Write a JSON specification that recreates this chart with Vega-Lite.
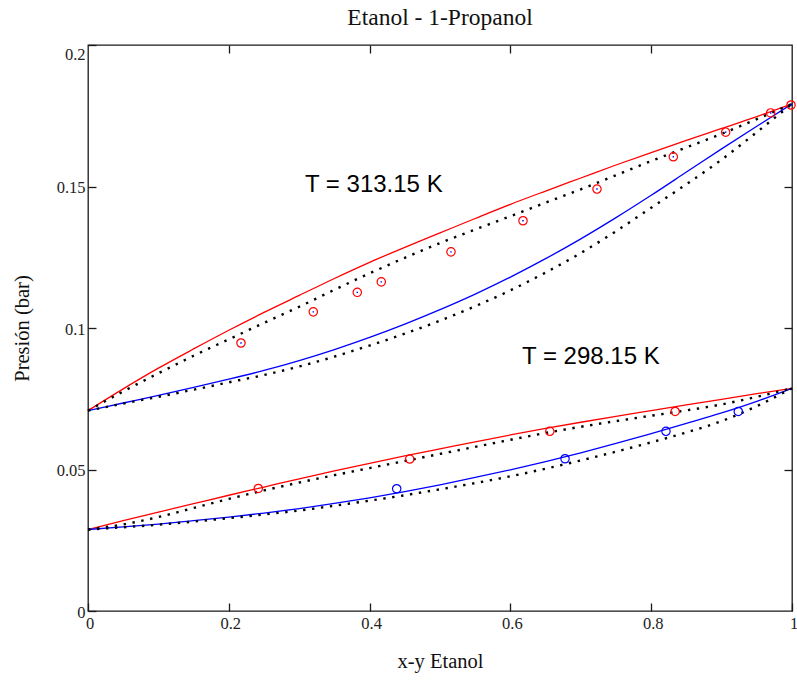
{
  "$schema": "https://vega.github.io/schema/vega-lite/v6.json",
  "width": 704,
  "height": 566,
  "autosize": {"type": "none"},
  "padding": {"left": 88, "top": 45, "right": 5, "bottom": 75},
  "background": "white",
  "title": {"text": "Etanol - 1-Propanol", "font": "Liberation Serif", "fontSize": 23.5, "fontWeight": "normal", "color": "#111111", "anchor": "middle", "offset": 15},
  "config": {
    "view": {"stroke": "#1a1a1a", "strokeWidth": 1.3},
    "axis": {"domain": false, "grid": false, "ticks": true, "tickSize": -8, "tickColor": "#1a1a1a", "tickWidth": 1.3, "labelFont": "Liberation Serif", "labelFontSize": 16.5, "labelColor": "#222222", "titleFont": "Liberation Serif", "titleFontSize": 20.5, "titleFontWeight": "normal", "titleColor": "#111111", "labelFlush": false}
  },
  "datasets": {
    "curvas": [
      {"curva":"313b","fase":"burbuja","x":0,"P":0.0708},{"curva":"313b","fase":"burbuja","x":0.05,"P":0.0785},{"curva":"313b","fase":"burbuja","x":0.1,"P":0.0858},{"curva":"313b","fase":"burbuja","x":0.15,"P":0.0926},{"curva":"313b","fase":"burbuja","x":0.2,"P":0.0992},{"curva":"313b","fase":"burbuja","x":0.25,"P":0.1055},{"curva":"313b","fase":"burbuja","x":0.3,"P":0.1115},{"curva":"313b","fase":"burbuja","x":0.35,"P":0.1175},{"curva":"313b","fase":"burbuja","x":0.4,"P":0.1232},{"curva":"313b","fase":"burbuja","x":0.45,"P":0.1285},{"curva":"313b","fase":"burbuja","x":0.5,"P":0.1336},{"curva":"313b","fase":"burbuja","x":0.55,"P":0.1387},{"curva":"313b","fase":"burbuja","x":0.6,"P":0.1437},{"curva":"313b","fase":"burbuja","x":0.65,"P":0.1484},{"curva":"313b","fase":"burbuja","x":0.7,"P":0.153},{"curva":"313b","fase":"burbuja","x":0.75,"P":0.1576},{"curva":"313b","fase":"burbuja","x":0.8,"P":0.162},{"curva":"313b","fase":"burbuja","x":0.85,"P":0.1663},{"curva":"313b","fase":"burbuja","x":0.9,"P":0.1705},{"curva":"313b","fase":"burbuja","x":0.95,"P":0.1747},{"curva":"313b","fase":"burbuja","x":1,"P":0.1792},
      {"curva":"313r","fase":"rocio","x":0,"P":0.0708},{"curva":"313r","fase":"rocio","x":0.05,"P":0.0735},{"curva":"313r","fase":"rocio","x":0.1,"P":0.0762},{"curva":"313r","fase":"rocio","x":0.15,"P":0.079},{"curva":"313r","fase":"rocio","x":0.2,"P":0.0819},{"curva":"313r","fase":"rocio","x":0.25,"P":0.085},{"curva":"313r","fase":"rocio","x":0.3,"P":0.0885},{"curva":"313r","fase":"rocio","x":0.35,"P":0.0924},{"curva":"313r","fase":"rocio","x":0.4,"P":0.0967},{"curva":"313r","fase":"rocio","x":0.45,"P":0.1014},{"curva":"313r","fase":"rocio","x":0.5,"P":0.1065},{"curva":"313r","fase":"rocio","x":0.55,"P":0.112},{"curva":"313r","fase":"rocio","x":0.6,"P":0.118},{"curva":"313r","fase":"rocio","x":0.65,"P":0.1245},{"curva":"313r","fase":"rocio","x":0.7,"P":0.1315},{"curva":"313r","fase":"rocio","x":0.75,"P":0.139},{"curva":"313r","fase":"rocio","x":0.8,"P":0.1469},{"curva":"313r","fase":"rocio","x":0.85,"P":0.1551},{"curva":"313r","fase":"rocio","x":0.9,"P":0.1633},{"curva":"313r","fase":"rocio","x":0.95,"P":0.1713},{"curva":"313r","fase":"rocio","x":1,"P":0.1792},
      {"curva":"298b","fase":"burbuja","x":0,"P":0.0288},{"curva":"298b","fase":"burbuja","x":0.05,"P":0.0319},{"curva":"298b","fase":"burbuja","x":0.1,"P":0.0349},{"curva":"298b","fase":"burbuja","x":0.15,"P":0.0379},{"curva":"298b","fase":"burbuja","x":0.2,"P":0.0409},{"curva":"298b","fase":"burbuja","x":0.25,"P":0.0438},{"curva":"298b","fase":"burbuja","x":0.3,"P":0.0467},{"curva":"298b","fase":"burbuja","x":0.35,"P":0.0495},{"curva":"298b","fase":"burbuja","x":0.4,"P":0.0522},{"curva":"298b","fase":"burbuja","x":0.45,"P":0.0548},{"curva":"298b","fase":"burbuja","x":0.5,"P":0.0573},{"curva":"298b","fase":"burbuja","x":0.55,"P":0.0598},{"curva":"298b","fase":"burbuja","x":0.6,"P":0.0622},{"curva":"298b","fase":"burbuja","x":0.65,"P":0.0645},{"curva":"298b","fase":"burbuja","x":0.7,"P":0.0667},{"curva":"298b","fase":"burbuja","x":0.75,"P":0.0688},{"curva":"298b","fase":"burbuja","x":0.8,"P":0.0708},{"curva":"298b","fase":"burbuja","x":0.85,"P":0.0728},{"curva":"298b","fase":"burbuja","x":0.9,"P":0.0748},{"curva":"298b","fase":"burbuja","x":0.95,"P":0.0768},{"curva":"298b","fase":"burbuja","x":1,"P":0.0787},
      {"curva":"298r","fase":"rocio","x":0,"P":0.0288},{"curva":"298r","fase":"rocio","x":0.05,"P":0.0297},{"curva":"298r","fase":"rocio","x":0.1,"P":0.0307},{"curva":"298r","fase":"rocio","x":0.15,"P":0.0319},{"curva":"298r","fase":"rocio","x":0.2,"P":0.0332},{"curva":"298r","fase":"rocio","x":0.25,"P":0.0346},{"curva":"298r","fase":"rocio","x":0.3,"P":0.0362},{"curva":"298r","fase":"rocio","x":0.35,"P":0.038},{"curva":"298r","fase":"rocio","x":0.4,"P":0.04},{"curva":"298r","fase":"rocio","x":0.45,"P":0.0422},{"curva":"298r","fase":"rocio","x":0.5,"P":0.0446},{"curva":"298r","fase":"rocio","x":0.55,"P":0.0472},{"curva":"298r","fase":"rocio","x":0.6,"P":0.0499},{"curva":"298r","fase":"rocio","x":0.65,"P":0.0528},{"curva":"298r","fase":"rocio","x":0.7,"P":0.0559},{"curva":"298r","fase":"rocio","x":0.75,"P":0.0592},{"curva":"298r","fase":"rocio","x":0.8,"P":0.0627},{"curva":"298r","fase":"rocio","x":0.85,"P":0.0663},{"curva":"298r","fase":"rocio","x":0.9,"P":0.07},{"curva":"298r","fase":"rocio","x":0.95,"P":0.0741},{"curva":"298r","fase":"rocio","x":1,"P":0.0787}
    ],
    "modelo": [
      {"curva":"313b","x":0,"P":0.0708},{"curva":"313b","x":0.05,"P":0.0776},{"curva":"313b","x":0.1,"P":0.084},{"curva":"313b","x":0.15,"P":0.0902},{"curva":"313b","x":0.2,"P":0.096},{"curva":"313b","x":0.25,"P":0.1018},{"curva":"313b","x":0.3,"P":0.1075},{"curva":"313b","x":0.35,"P":0.1135},{"curva":"313b","x":0.4,"P":0.1193},{"curva":"313b","x":0.45,"P":0.1248},{"curva":"313b","x":0.5,"P":0.13},{"curva":"313b","x":0.55,"P":0.1348},{"curva":"313b","x":0.6,"P":0.1395},{"curva":"313b","x":0.65,"P":0.1443},{"curva":"313b","x":0.7,"P":0.149},{"curva":"313b","x":0.75,"P":0.154},{"curva":"313b","x":0.8,"P":0.159},{"curva":"313b","x":0.85,"P":0.1638},{"curva":"313b","x":0.9,"P":0.1686},{"curva":"313b","x":0.95,"P":0.1738},{"curva":"313b","x":1,"P":0.1792},
      {"curva":"313r","x":0,"P":0.0708},{"curva":"313r","x":0.05,"P":0.0733},{"curva":"313r","x":0.1,"P":0.0757},{"curva":"313r","x":0.15,"P":0.0782},{"curva":"313r","x":0.2,"P":0.0808},{"curva":"313r","x":0.25,"P":0.0834},{"curva":"313r","x":0.3,"P":0.0864},{"curva":"313r","x":0.35,"P":0.0899},{"curva":"313r","x":0.4,"P":0.0938},{"curva":"313r","x":0.45,"P":0.098},{"curva":"313r","x":0.5,"P":0.1026},{"curva":"313r","x":0.55,"P":0.1077},{"curva":"313r","x":0.6,"P":0.1133},{"curva":"313r","x":0.65,"P":0.1196},{"curva":"313r","x":0.7,"P":0.1265},{"curva":"313r","x":0.75,"P":0.1342},{"curva":"313r","x":0.8,"P":0.1425},{"curva":"313r","x":0.85,"P":0.1508},{"curva":"313r","x":0.9,"P":0.1595},{"curva":"313r","x":0.95,"P":0.1692},{"curva":"313r","x":1,"P":0.1792},
      {"curva":"298b","x":0,"P":0.0288},{"curva":"298b","x":0.05,"P":0.0306},{"curva":"298b","x":0.1,"P":0.0332},{"curva":"298b","x":0.15,"P":0.0364},{"curva":"298b","x":0.2,"P":0.0396},{"curva":"298b","x":0.25,"P":0.0426},{"curva":"298b","x":0.3,"P":0.0454},{"curva":"298b","x":0.35,"P":0.048},{"curva":"298b","x":0.4,"P":0.0505},{"curva":"298b","x":0.45,"P":0.053},{"curva":"298b","x":0.5,"P":0.0555},{"curva":"298b","x":0.55,"P":0.058},{"curva":"298b","x":0.6,"P":0.0605},{"curva":"298b","x":0.65,"P":0.0629},{"curva":"298b","x":0.7,"P":0.0651},{"curva":"298b","x":0.75,"P":0.0671},{"curva":"298b","x":0.8,"P":0.069},{"curva":"298b","x":0.85,"P":0.0709},{"curva":"298b","x":0.9,"P":0.073},{"curva":"298b","x":0.95,"P":0.0757},{"curva":"298b","x":1,"P":0.0787},
      {"curva":"298r","x":0,"P":0.0288},{"curva":"298r","x":0.05,"P":0.0296},{"curva":"298r","x":0.1,"P":0.0305},{"curva":"298r","x":0.15,"P":0.0316},{"curva":"298r","x":0.2,"P":0.0328},{"curva":"298r","x":0.25,"P":0.0341},{"curva":"298r","x":0.3,"P":0.0355},{"curva":"298r","x":0.35,"P":0.0372},{"curva":"298r","x":0.4,"P":0.039},{"curva":"298r","x":0.45,"P":0.0409},{"curva":"298r","x":0.5,"P":0.043},{"curva":"298r","x":0.55,"P":0.0452},{"curva":"298r","x":0.6,"P":0.0476},{"curva":"298r","x":0.65,"P":0.0503},{"curva":"298r","x":0.7,"P":0.0532},{"curva":"298r","x":0.75,"P":0.0563},{"curva":"298r","x":0.8,"P":0.0596},{"curva":"298r","x":0.85,"P":0.0631},{"curva":"298r","x":0.9,"P":0.0671},{"curva":"298r","x":0.95,"P":0.0724},{"curva":"298r","x":1,"P":0.0787}
    ],
    "experimental": [
      {"serie":"313","fase":"burbuja","x":0.2173,"P":0.0947},{"serie":"313","fase":"burbuja","x":0.32,"P":0.1057},{"serie":"313","fase":"burbuja","x":0.3825,"P":0.1126},{"serie":"313","fase":"burbuja","x":0.4166,"P":0.1163},{"serie":"313","fase":"burbuja","x":0.5156,"P":0.1269},{"serie":"313","fase":"burbuja","x":0.6179,"P":0.1379},{"serie":"313","fase":"burbuja","x":0.723,"P":0.1491},{"serie":"313","fase":"burbuja","x":0.8314,"P":0.1605},{"serie":"313","fase":"burbuja","x":0.9058,"P":0.1692},{"serie":"313","fase":"burbuja","x":0.9697,"P":0.176},{"serie":"313","fase":"burbuja","x":0.9986,"P":0.1788},
      {"serie":"298","fase":"burbuja","x":0.2419,"P":0.0433},{"serie":"298","fase":"burbuja","x":0.457,"P":0.0537},{"serie":"298","fase":"burbuja","x":0.656,"P":0.0635},{"serie":"298","fase":"burbuja","x":0.834,"P":0.0705},
      {"serie":"298","fase":"rocio","x":0.4385,"P":0.0432},{"serie":"298","fase":"rocio","x":0.6776,"P":0.0538},{"serie":"298","fase":"rocio","x":0.821,"P":0.0635},{"serie":"298","fase":"rocio","x":0.9237,"P":0.0705}
    ],
    "etiquetas": [
      {"texto":"T = 313.15 K","x":0.3082,"P":0.1482},
      {"texto":"T = 298.15 K","x":0.6165,"P":0.0872}
    ]
  },
  "layer": [
    {
      "data": {"name": "curvas"},
      "mark": {"type": "line", "interpolate": "monotone", "strokeWidth": 1.3},
      "encoding": {
        "x": {"field": "x", "type": "quantitative", "scale": {"domain": [0, 1], "nice": false, "zero": false},
              "axis": {"orient": "bottom", "values": [0, 0.2, 0.4, 0.6, 0.8, 1], "format": "~g", "labelPadding": 12.5, "labelOffset": 1.5, "title": "x-y Etanol", "titlePadding": 19}},
        "y": {"field": "P", "type": "quantitative", "scale": {"domain": [0, 0.2], "nice": false, "zero": false},
              "axis": {"orient": "left", "values": [0, 0.05, 0.1, 0.15, 0.2], "format": "~g", "labelPadding": 11, "labelOffset": 1,
                       "labelBaseline": {"condition": {"test": "datum.value >= 0.2", "value": "top"}, "value": "middle"},
                       "title": "Presión (bar)", "titlePadding": 24}},
        "color": {"field": "fase", "type": "nominal", "scale": {"domain": ["burbuja", "rocio"], "range": ["#ff0000", "#0000ff"]}, "legend": null},
        "detail": {"field": "curva"}
      }
    },
    {
      "data": {"name": "modelo"},
      "mark": {"type": "line", "interpolate": "monotone", "color": "#000000", "strokeWidth": 2.4, "strokeDash": [2.4, 6.6], "strokeCap": "butt"},
      "encoding": {
        "x": {"field": "x", "type": "quantitative", "axis": {"orient": "top", "values": [0.2, 0.4, 0.6, 0.8], "labels": false, "title": null}},
        "y": {"field": "P", "type": "quantitative", "axis": {"orient": "right", "values": [0.05, 0.1, 0.15], "labels": false, "title": null}},
        "detail": {"field": "curva"}
      }
    },
    {
      "data": {"name": "experimental"},
      "mark": {"type": "point", "shape": "circle", "filled": false, "size": 70, "strokeWidth": 1.2, "opacity": 1},
      "encoding": {
        "x": {"field": "x", "type": "quantitative", "axis": null},
        "y": {"field": "P", "type": "quantitative", "axis": null},
        "color": {"field": "fase", "type": "nominal", "legend": null}
      }
    },
    {
      "data": {"name": "experimental"},
      "transform": [{"filter": "datum.serie == '313'"}],
      "mark": {"type": "point", "shape": "square", "filled": true, "size": 2, "color": "#0000ff", "opacity": 1},
      "encoding": {
        "x": {"field": "x", "type": "quantitative", "axis": null},
        "y": {"field": "P", "type": "quantitative", "axis": null}
      }
    },
    {
      "data": {"name": "etiquetas"},
      "mark": {"type": "text", "align": "left", "baseline": "alphabetic", "font": "Liberation Sans", "fontSize": 24, "color": "#000000"},
      "encoding": {
        "x": {"field": "x", "type": "quantitative", "axis": null},
        "y": {"field": "P", "type": "quantitative", "axis": null},
        "text": {"field": "texto"}
      }
    }
  ],
  "resolve": {"axis": {"x": "independent", "y": "independent"}}
}
